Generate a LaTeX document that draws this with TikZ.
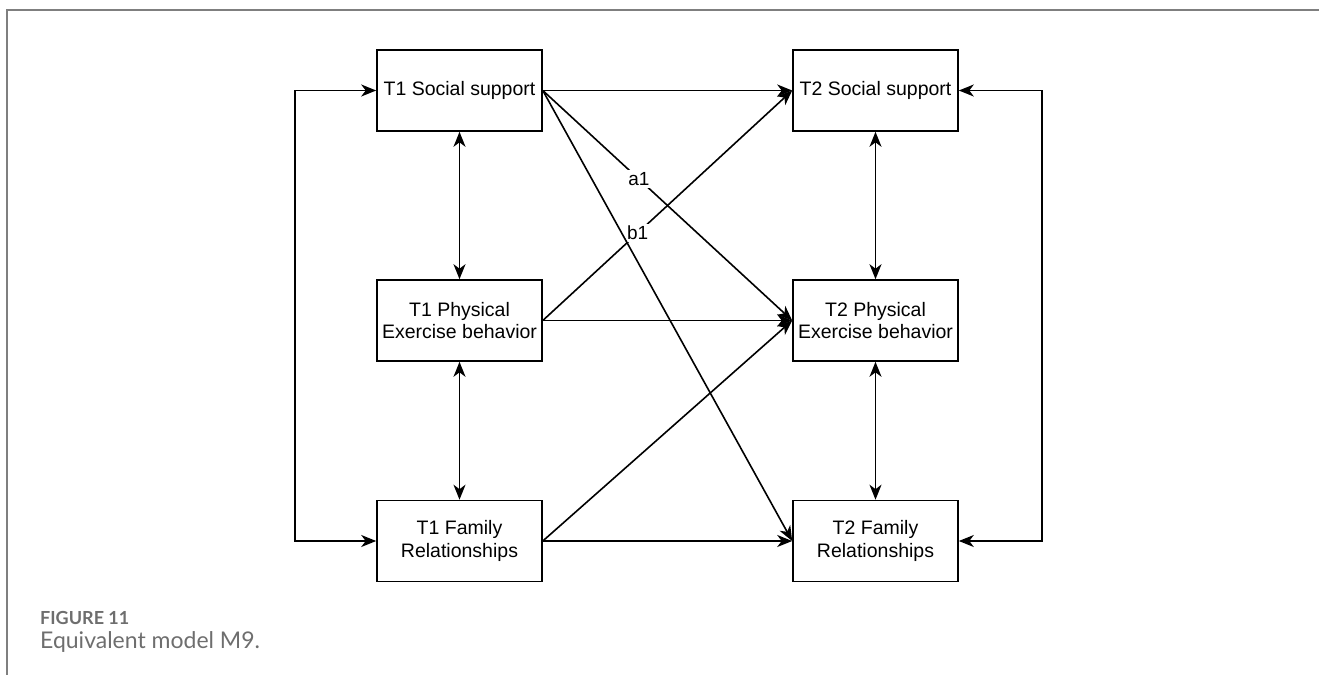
\documentclass[tikz,border=0pt]{standalone}
\usepackage{fontspec}
\setmainfont{Liberation Sans}
\newfontfamily\capfont{Lato}
\usetikzlibrary{arrows.meta}
\definecolor{framegray}{HTML}{7F7F7F}
\definecolor{capgray}{HTML}{6E6E6E}
\begin{document}
\begin{tikzpicture}[x=1pt,y=-1pt,
  var/.style={draw, line width=1.6pt, minimum width=165pt, minimum height=81pt,
    inner sep=0pt, align=center, font=\fontsize{19.5}{22.5}\selectfont},
  tip/.tip={Stealth[length=15pt,width=12pt,inset=4.5pt]},
  path/.style={line width=1.6pt, -tip},
  cov/.style={line width=1.6pt, tip-tip},
  coef/.style={fill=white, inner sep=2pt, font=\fontsize{19}{19}\selectfont},
  captitle/.style={anchor=base west, inner sep=0pt, text=capgray,
    font=\capfont\bfseries\fontsize{18}{18}\selectfont},
  captext/.style={anchor=base west, inner sep=0pt, text=capgray,
    font=\capfont\fontsize{23}{24}\selectfont}]
\useasboundingbox (0,0) rectangle (1319,675);

% figure frame
\draw[framegray, line width=2pt] (1319,10) -- (7,10) -- (7,675);

% variables at the two time points
\node[var] (s1) at (459.5,90.5)  {T1 Social support};
\node[var] (p1) at (459.5,320.5) {T1 Physical\\Exercise behavior};
\node[var] (f1) at (459.5,541)   {T1 Family\\Relationships};
\node[var] (s2) at (875.5,90.5)  {T2 Social support};
\node[var] (p2) at (875.5,320.5) {T2 Physical\\Exercise behavior};
\node[var] (f2) at (875.5,541)   {T2 Family\\Relationships};

% within-time covariances
\draw[cov] (s1.south) -- (p1.north);
\draw[cov] (p1.south) -- (f1.north);
\draw[cov] (s2.south) -- (p2.north);
\draw[cov] (p2.south) -- (f2.north);
\draw[cov] (s1.west) -- ++(-81,0) |- (f1.west);
\draw[cov] (s2.east) -- ++(83,0) |- (f2.east);

% cross-lagged paths with labelled coefficients
\draw[path] (s1.east) -- node[coef, pos=0.385] (a1) {a1} (p2.west);
\draw[path] (p1.east) -- node[coef, pos=0.38] (b1) {b1} (s2.west);

% remaining paths
\draw[path] (s1.east) -- (s2.west);
\draw[path] (s1.east) -- (f2.west);
\draw[path] (p1.east) -- (p2.west);
\draw[path] (f1.east) -- (p2.west);
\draw[path] (f1.east) -- (f2.west);

% caption
\node[captitle] (fig) at (40,624) {FIGURE 11};
\node[captext] (cap) at (40,648) {Equivalent model M9.};
\end{tikzpicture}
\end{document}
